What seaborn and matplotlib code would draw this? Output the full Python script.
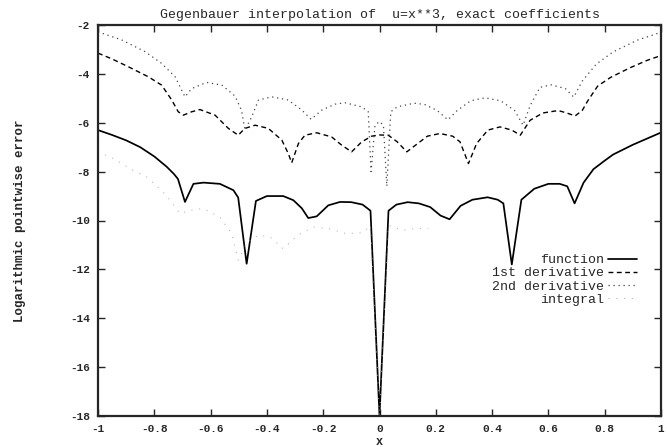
import numpy as np
import pandas as pd
import matplotlib
matplotlib.use("Agg")
import matplotlib.pyplot as plt
import seaborn as sns

# --- data (x, log10 error) ---
x_func = [-1, -0.95, -0.9, -0.85, -0.8, -0.756, -0.73, -0.716, -0.691, -0.661, -0.625, -0.567,
          -0.519, -0.502, -0.472, -0.439, -0.4, -0.342, -0.306, -0.276, -0.253, -0.223, -0.182,
          -0.14, -0.1, -0.06, -0.032, 0, 0.032, 0.06, 0.1, 0.14, 0.18, 0.217, 0.249, 0.288,
          0.33, 0.384, 0.42, 0.44, 0.47, 0.504, 0.55, 0.6, 0.64, 0.667, 0.693, 0.725, 0.76,
          0.8, 0.83, 0.9, 0.95, 1.0]
y_func = [-6.3, -6.5, -6.72, -7.0, -7.38, -7.8, -8.1, -8.3, -9.24, -8.5, -8.45, -8.5,
          -8.76, -9.06, -11.77, -9.2, -9.0, -9.0, -9.17, -9.5, -9.9, -9.83, -9.38,
          -9.24, -9.25, -9.35, -9.6, -18.0, -9.6, -9.35, -9.25, -9.3, -9.45, -9.8, -9.95, -9.4,
          -9.15, -9.05, -9.15, -9.3, -11.8, -9.15, -8.7, -8.5, -8.5, -8.6, -9.3, -8.45, -7.9,
          -7.55, -7.3, -6.9, -6.65, -6.4]

x_d1 = [-1, -0.95, -0.892, -0.821, -0.774, -0.738, -0.715, -0.697, -0.667, -0.638, -0.584,
        -0.537, -0.502, -0.478, -0.442, -0.395, -0.347, -0.324, -0.312, -0.288, -0.265, -0.223,
        -0.17, -0.134, -0.099, -0.063, -0.028, 0, 0.031, 0.063, 0.097, 0.13, 0.17, 0.215, 0.26,
        0.286, 0.316, 0.345, 0.385, 0.428, 0.47, 0.5, 0.535, 0.58, 0.635, 0.665, 0.695, 0.72,
        0.74, 0.775, 0.82, 0.89, 0.95, 1]
y_d1 = [-3.15, -3.39, -3.71, -4.12, -4.46, -5.07, -5.55, -5.69, -5.55, -5.46, -5.69,
        -6.23, -6.51, -6.23, -6.1, -6.23, -6.71, -7.26, -7.64, -6.85, -6.51, -6.41,
        -6.58, -6.92, -7.19, -6.78, -6.55, -6.5, -6.51, -6.78, -7.19, -6.9, -6.55, -6.44, -6.55,
        -6.78, -7.67, -6.85, -6.3, -6.17, -6.3, -6.51, -5.9, -5.6, -5.5, -5.6, -5.72, -5.5,
        -5.1, -4.5, -4.15, -3.75, -3.45, -3.25]

x_d2 = [-1, -0.916, -0.833, -0.774, -0.726, -0.691, -0.667, -0.614, -0.56, -0.513, -0.49,
        -0.478, -0.454, -0.43, -0.383, -0.324, -0.276, -0.243, -0.205, -0.158, -0.123, -0.063,
        -0.04, -0.03, -0.016, 0, 0.014, 0.026, 0.04, 0.063, 0.123, 0.16, 0.205, 0.243, 0.276,
        0.324, 0.375, 0.43, 0.48, 0.51, 0.535, 0.57, 0.61, 0.66, 0.69, 0.72, 0.77, 0.83,
        0.916, 1]
y_d2 = [-2.28, -2.61, -3.09, -3.57, -4.12, -4.94, -4.6, -4.35, -4.46, -4.91, -5.5,
        -6.3, -5.76, -5.07, -4.94, -5.07, -5.48, -5.86, -5.48, -5.24, -5.18, -5.35,
        -5.55, -8.0, -6.1, -5.95, -6.1, -8.6, -5.55, -5.35, -5.2, -5.25, -5.5, -5.88, -5.5,
        -5.1, -4.98, -5.1, -5.5, -6.1, -5.3, -4.55, -4.45, -4.6, -4.95, -4.3, -3.6, -3.1,
        -2.62, -2.3]

x_int = [-1, -0.946, -0.875, -0.827, -0.769, -0.744, -0.709, -0.673, -0.626, -0.567, -0.525,
         -0.502, -0.47, -0.43, -0.389, -0.342, -0.29, -0.235, -0.182, -0.117, -0.06, -0.032,
         0, 0.032, 0.08, 0.132, 0.173]
y_int = [-7.19, -7.46, -7.95, -8.22, -8.83, -9.17, -9.72, -9.58, -9.51, -9.86, -10.54,
         -11.63, -10.9, -10.6, -10.67, -11.15, -10.6, -10.27, -10.33, -10.54, -10.5, -10.2,
         -18.0, -10.2, -10.4, -10.33, -10.33]

x_ticks = [-1, -0.8, -0.6, -0.4, -0.2, 0, 0.2, 0.4, 0.6, 0.8, 1]
x_ticklabels = ["-1", "-0.8", "-0.6", "-0.4", "-0.2", "0", "0.2", "0.4", "0.6", "0.8", "1"]
y_ticks = [-2, -4, -6, -8, -10, -12, -14, -16, -18]

sns.set_style("ticks")
plt.rcParams['font.family'] = ['Liberation Mono', 'DejaVu Sans Mono']
plt.rcParams['axes.unicode_minus'] = False

fig = plt.figure(figsize=(6.67, 4.47), dpi=100)
ax = fig.add_axes([98 / 667, 1 - 416 / 447, 563 / 667, 391 / 447])

sns.lineplot(x=x_func, y=y_func, ax=ax, color="black", lw=1.25, sort=False,
             label="function")
sns.lineplot(x=x_d1, y=y_d1, ax=ax, color="black", lw=1.0, sort=False,
             linestyle=(0, (3.5, 2.5)), label="1st derivative")
sns.lineplot(x=x_d2, y=y_d2, ax=ax, color="#444444", lw=0.9, sort=False,
             linestyle=(0, (1, 3)), label="2nd derivative")
sns.lineplot(x=x_int, y=y_int, ax=ax, color="#a5a5a5", lw=0.7, sort=False,
             linestyle=(0, (1, 7)), label="integral")

ax.set_xlim(-1, 1)
ax.set_ylim(-18, -2)
ax.set_xticks(x_ticks)
ax.set_xticklabels(x_ticklabels, fontweight="bold", fontsize=8)
ax.set_yticks(y_ticks)
ax.set_yticklabels([str(v) for v in y_ticks], fontweight="bold", fontsize=8)
ax.tick_params(direction="in", length=5, width=1.0, top=True, right=True, pad=6)
for s in ax.spines.values():
    s.set_linewidth(1.6)
    s.set_visible(True)

ax.set_title("Gegenbauer interpolation of  u=x**3, exact coefficients", fontsize=9.5, pad=5)
ax.set_xlabel("x", fontweight="bold", fontsize=8.5)
ax.set_ylabel("Logarithmic pointwise error", fontweight="bold", fontsize=9)
ax.xaxis.set_label_coords(0.5, -0.052)
ax.yaxis.set_label_coords(-0.128, 0.5)

ax.legend(loc="upper right", bbox_to_anchor=((637 - 98) / 563, (416 - 254) / 391),
          frameon=False, markerfirst=False, fontsize=9.5, handlelength=2.2,
          handletextpad=0.3, labelspacing=0.07, borderpad=0, borderaxespad=0)

fig.savefig("out.png", dpi=100)
